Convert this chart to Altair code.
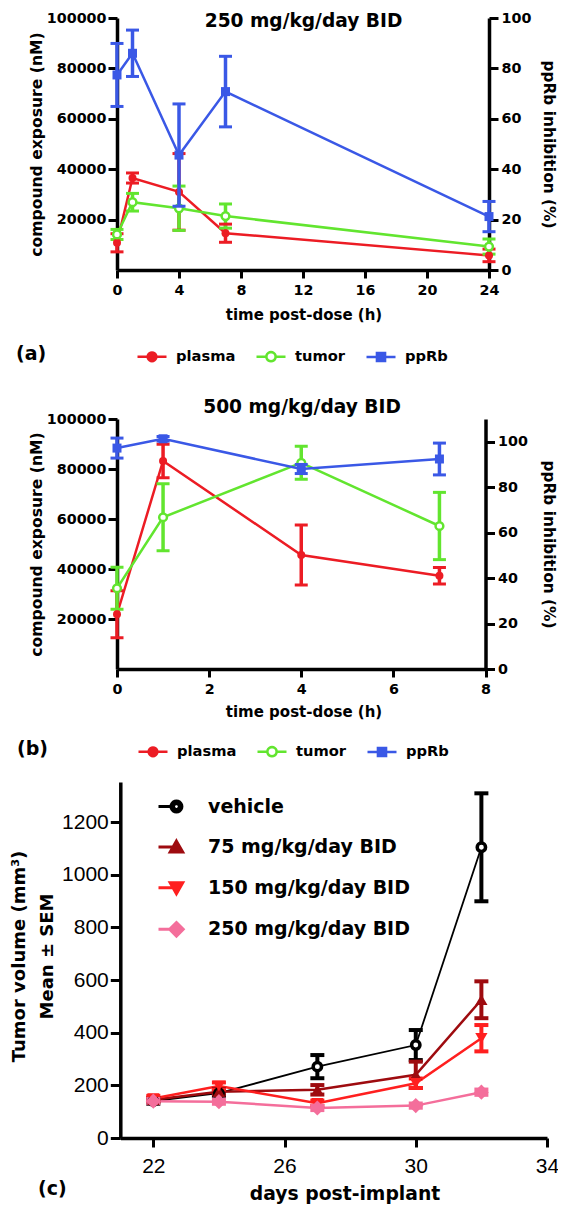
import math
import altair as alt
import pandas as pd

F = "DejaVu Sans"
FC = "Liberation Sans"

# ---------------- data ----------------
a_time = [0, 1, 4, 7, 24]
a_plasma = [10800, 36500, 31000, 14600, 5800]
a_plasma_sem = [3600, 2000, 15200, 3600, 2500]
a_tumor = [14100, 26900, 24500, 21400, 9300]
a_tumor_sem = [2000, 3500, 8800, 4800, 3000]
a_pprb = [77.4, 86.0, 45.6, 70.8, 21.2]
a_pprb_sem = [12.5, 9.2, 20.3, 14.0, 6.0]

b_time = [0, 1, 4, 7]
b_plasma = [21900, 83200, 45600, 37300]
b_plasma_sem = [9400, 6700, 12000, 3300]
b_tumor = [32300, 60700, 82500, 57200]
b_tumor_sem = [8400, 13400, 6600, 13450]
b_pprb = [97.2, 101.3, 88.0, 92.4]
b_pprb_sem = [4.4, 1.0, 2.0, 7.0]

pk_series = ["plasma", "tumor", "ppRb"]
pk_colors = ["#EC1C24", "#62E52F", "#3A58E6"]

c_days = [22, 24, 27, 30, 32]
c_groups = ["vehicle", "75 mg/kg/day BID", "150 mg/kg/day BID", "250 mg/kg/day BID"]
c_colors = ["#000000", "#9E0B0F", "#FF1F1F", "#F46E9B"]
c_vehicle = [140, 170, 271, 353, 1104]
c_vehicle_sem = [10, 10, 44, 57, 205]
c_75 = [145, 176, 183, 240, 525]
c_75_sem = [8, 10, 18, 50, 70]
c_150 = [150, 197, 132, 208, 379]
c_150_sem = [10, 14, 10, 18, 50]
c_250 = [140, 138, 114, 123, 174]
c_250_sem = [8, 8, 8, 8, 10]


def long_df(times, names, means, sems, key):
    rows = []
    for name, m, s in zip(names, means, sems):
        for t, v, e in zip(times, m, s):
            rows.append({key: name, "t": t, "v": v, "lo": v - e, "hi": v + e})
    return pd.DataFrame(rows)


a_left_df = long_df(a_time, pk_series[:2], [a_plasma, a_tumor], [a_plasma_sem, a_tumor_sem], "series")
a_right_df = long_df(a_time, pk_series[2:], [a_pprb], [a_pprb_sem], "series")
b_left_df = long_df(b_time, pk_series[:2], [b_plasma, b_tumor], [b_plasma_sem, b_tumor_sem], "series")
b_right_df = long_df(b_time, pk_series[2:], [b_pprb], [b_pprb_sem], "series")
c_df = long_df(c_days, c_groups, [c_vehicle, c_75, c_150, c_250],
               [c_vehicle_sem, c_75_sem, c_150_sem, c_250_sem], "group")
pk_leg_df = pd.DataFrame({"series": pk_series})
c_leg_df = pd.DataFrame({"group": c_groups})


# ---------------- legend symbol paths ----------------
def poly(pts):
    return "M" + "L".join(f"{x:.3f},{y:.3f}" for x, y in pts) + "Z"


def hatch(pts, step=0.08):
    ys = [p[1] for p in pts]
    out = ""
    y = min(ys) + step / 2
    n = len(pts)
    while y < max(ys):
        xs = []
        for i in range(n):
            (x1, y1), (x2, y2) = pts[i], pts[(i + 1) % n]
            if (y1 <= y < y2) or (y2 <= y < y1):
                xs.append(x1 + (y - y1) * (x2 - x1) / (y2 - y1))
        xs.sort()
        for i in range(0, len(xs) - 1, 2):
            out += f"M{xs[i]:.3f},{y:.3f}L{xs[i+1]:.3f},{y:.3f}"
        y += step
    return out


def ngon(cx, r, n=20):
    return [(cx + r * math.cos(2 * math.pi * k / n), r * math.sin(2 * math.pi * k / n)) for k in range(n)]


circ = ngon(0, 0.3)
sq = [(-0.28, -0.28), (0.28, -0.28), (0.28, 0.28), (-0.28, 0.28)]
pk_paths = [
    "M-1,0L1,0" + poly(circ) + hatch(circ),
    "M-1,0L-0.32,0M0.32,0L1,0" + poly(ngon(0, 0.32)),
    "M-1,0L1,0" + poly(sq) + hatch(sq),
]
tri_up = [(0.38, -0.46), (0.86, 0.38), (-0.10, 0.38)]
tri_dn = [(-0.10, -0.38), (0.86, -0.38), (0.38, 0.46)]
dia = [(0.38, -0.52), (0.9, 0), (0.38, 0.52), (-0.14, 0)]
c_paths = [
    "M-1,0L-0.06,0" + poly(ngon(0.38, 0.42)) + poly(ngon(0.38, 0.22)),
    "M-1,0L0.38,0" + poly(tri_up) + hatch(tri_up),
    "M-1,0L0.38,0" + poly(tri_dn) + hatch(tri_dn),
    "M-1,0L0,0" + poly(dia) + hatch(dia),
]

# ---------------- geometry / styles ----------------
W, H = 433, 1120

ab_axis = dict(domainColor="black", domainWidth=3.5, tickColor="black", tickWidth=3,
               labelColor="black", labelFont=F, labelFontWeight="bold", labelFontSize=14.3,
               titleColor="black", titleFont=F, titleFontWeight="bold", format="d",
               grid=False, labelFlush=False, labelOverlap=False)
c_axis = dict(domainColor="black", domainWidth=3.5, tickColor="black", tickWidth=3,
              labelColor="black", labelFont=FC, labelFontWeight="normal", labelFontSize=21,
              titleColor="black", titleFont=F, titleFontWeight="bold", format="d",
              grid=False, labelFlush=False, labelOverlap=False)


def qscale(domain, rng):
    return alt.Scale(domain=domain, range=rng, nice=False, zero=False)


def pk_legend(title, lx, ly):
    return alt.Legend(orient="none", legendX=lx, legendY=ly, direction="horizontal",
                      title=title, titleOrient="left", titleFont=F, titleFontSize=19,
                      titleFontWeight="bold", titleColor="black", titlePadding=89,
                      labelFont=F, labelFontSize=14.7, labelFontWeight="bold", labelColor="black",
                      labelOffset=8, columnPadding=15, symbolSize=841, symbolStrokeWidth=2.5,
                      labelLimit=0, padding=0)


def pk_panel(left_df, right_df, tmax, tvals, xr, x_off, yl_rng, yr_dom, yr_vals, yr_off, yr_tx,
             title, title_x, title_y, top_off, xt_y, leg):
    yl_mid = (yl_rng[0] + yl_rng[1]) / 2
    x_ax = alt.Axis(orient="bottom", offset=x_off, values=tvals, tickSize=8, labelPadding=5,
                    title="time post-dose (h)", titleFontSize=15, titleX=186.5, titleY=xt_y,
                    titleBaseline="alphabetic", titleAngle=0, **ab_axis)
    yl_ax = alt.Axis(orient="left", values=[20000, 40000, 60000, 80000, 100000], tickSize=9,
                     labelPadding=2, title="compound exposure (nM)", titleFontSize=15.6,
                     titleX=-81, titleY=yl_mid, titleAngle=-90, titleBaseline="middle", **ab_axis)
    x_top = alt.Axis(orient="top", offset=top_off, domain=False, ticks=False, labels=False, grid=False,
                     title=title, titleFont=F, titleFontWeight="bold", titleFontSize=18.6,
                     titleColor="black", titleX=title_x, titleY=title_y,
                     titleBaseline="alphabetic", titleAngle=0)
    yr_ax = alt.Axis(orient="right", offset=yr_off, values=yr_vals, tickSize=9, labelPadding=3,
                     title="ppRb inhibition (%)", titleFontSize=15.4, titleX=yr_tx,
                     titleY=yl_mid, titleAngle=90, titleBaseline="middle", **ab_axis)

    stroke = alt.Stroke("series:N", scale=alt.Scale(domain=pk_series, range=pk_colors), legend=leg)

    xl = alt.X("t:Q", scale=qscale([0, tmax], xr), axis=x_ax)

    def yl(f):
        return alt.Y(f"{f}:Q", scale=qscale([0, 100000], yl_rng), axis=yl_ax)

    bl = alt.Chart(left_df)
    left = alt.layer(
        bl.mark_line(strokeWidth=2.5).encode(x=xl, y=yl("v"), stroke=stroke),
        bl.mark_rule(strokeWidth=3.5).encode(x=xl, y=yl("lo"), y2="hi:Q", stroke=stroke),
        bl.transform_fold(["lo", "hi"], as_=["end", "e"]).mark_point(
            shape="stroke", size=169, strokeWidth=3, opacity=1).encode(x=xl, y=yl("e"), stroke=stroke),
        bl.transform_filter("datum.series == 'plasma'").mark_point(
            shape="circle", filled=True, size=64, opacity=1, color=pk_colors[0]).encode(x=xl, y=yl("v")),
        bl.transform_filter("datum.series == 'tumor'").mark_point(
            shape="circle", filled=False, fill="white", size=60, strokeWidth=2.5, opacity=1,
            color=pk_colors[1]).encode(x=xl, y=yl("v")),
    )

    xr_enc = alt.X("t:Q", scale=qscale([0, tmax], xr), axis=x_top)

    def yr(f):
        return alt.Y(f"{f}:Q", scale=qscale(yr_dom, yl_rng), axis=yr_ax)

    br = alt.Chart(right_df)
    right = alt.layer(
        br.mark_line(strokeWidth=2.5).encode(x=xr_enc, y=yr("v"), stroke=stroke),
        br.mark_rule(strokeWidth=3.5).encode(x=xr_enc, y=yr("lo"), y2="hi:Q", stroke=stroke),
        br.transform_fold(["lo", "hi"], as_=["end", "e"]).mark_point(
            shape="stroke", size=169, strokeWidth=3, opacity=1).encode(x=xr_enc, y=yr("e"), stroke=stroke),
        br.mark_point(shape="square", filled=True, size=81, opacity=1, color=pk_colors[2]).encode(
            x=xr_enc, y=yr("v")),
    )

    legend_layer = alt.Chart(pk_leg_df).mark_point(size=0, strokeWidth=2.5, filled=False, opacity=1).encode(
        stroke=stroke,
        shape=alt.Shape("series:N", scale=alt.Scale(domain=pk_series, range=pk_paths), legend=leg),
    )
    return alt.layer(left, right, legend_layer).resolve_scale(
        x="independent", y="independent").resolve_axis(x="independent", y="independent")


panelA = pk_panel(a_left_df, a_right_df, 24, [0, 4, 8, 12, 16, 20, 24], [0, 372], -868,
                  [252, 0], [0, 100], [0, 20, 40, 60, 80, 100], -61, 59,
                  "250 mg/kg/day BID", 186, 8, 0, 49, pk_legend("(a)", -101, 322.5))
panelB = pk_panel(b_left_df, b_right_df, 8, [0, 2, 4, 6, 8], [0, 368.5], -469,
                  [651, 401], [0, 110], [0, 20, 40, 60, 80, 100], -64.5, 62.5,
                  "500 mg/kg/day BID", 184.5, -7, -401, 47, pk_legend("(b)", -100, 717.5))

# ---------------- panel C ----------------
xc_ax = alt.Axis(orient="bottom", values=[22, 26, 30, 34], tickSize=9, labelPadding=8,
                 title="days post-implant", titleFontSize=18.75, titleX=227.5, titleY=61,
                 titleBaseline="alphabetic", titleAngle=0, **c_axis)
yc_ax = alt.Axis(orient="left", offset=-3.3, values=[0, 200, 400, 600, 800, 1000, 1200], tickSize=10,
                 labelPadding=2, title=["Tumor volume (mm³)", "Mean ± SEM"], titleFontSize=18,
                 titleX=-96, titleY=938, titleAngle=-90, titleBaseline="alphabetic",
                 titleLineHeight=28, **c_axis)
xc = alt.X("t:Q", scale=qscale([21, 34], [3.5, 430]), axis=xc_ax)


def yc(f):
    return alt.Y(f"{f}:Q", scale=qscale([0, 1352], [1120, 764]), axis=yc_ax)


legC = alt.Legend(orient="none", legendX=40, legendY=774, direction="vertical", title=None,
                  labelFont=F, labelFontSize=19, labelFontWeight="bold", labelColor="black",
                  labelOffset=22, rowPadding=14.6, symbolSize=676, symbolStrokeWidth=3,
                  labelLimit=0, padding=0)
c_stroke = alt.Stroke("group:N", scale=alt.Scale(domain=c_groups, range=c_colors), legend=legC)
bc = alt.Chart(c_df)
c_marks = [("vehicle", dict(shape="circle", filled=False, fill="white", strokeWidth=3.5, size=70)),
           ("75 mg/kg/day BID", dict(shape="triangle-up", filled=True, size=150)),
           ("150 mg/kg/day BID", dict(shape="triangle-down", filled=True, size=150)),
           ("250 mg/kg/day BID", dict(shape="diamond", filled=True, size=230))]
point_layers = [
    bc.transform_filter(f"datum.group == '{g}'").mark_point(opacity=1, color=c_colors[i], **kw).encode(
        x=xc, y=yc("v"))
    for i, (g, kw) in enumerate(c_marks)
]
panelC = alt.layer(
    bc.transform_filter("datum.group == 'vehicle'").mark_line(strokeWidth=1.8).encode(
        x=xc, y=yc("v"), stroke=c_stroke),
    bc.transform_filter("datum.group != 'vehicle'").mark_line(strokeWidth=2.5).encode(
        x=xc, y=yc("v"), stroke=c_stroke),
    bc.mark_rule(strokeWidth=4).encode(x=xc, y=yc("lo"), y2="hi:Q", stroke=c_stroke),
    bc.transform_fold(["lo", "hi"], as_=["end", "e"]).mark_point(
        shape="stroke", size=196, strokeWidth=4, opacity=1).encode(x=xc, y=yc("e"), stroke=c_stroke),
    *point_layers,
    alt.Chart(c_leg_df).mark_point(size=0, strokeWidth=3, filled=False, opacity=1).encode(
        stroke=c_stroke,
        shape=alt.Shape("group:N", scale=alt.Scale(domain=c_groups, range=c_paths), legend=legC),
    ),
)

chart = alt.layer(panelA, panelB, panelC).resolve_scale(
    x="independent", y="independent", stroke="independent", shape="independent"
).resolve_axis(x="independent", y="independent").resolve_legend(
    stroke="independent", shape="independent"
).properties(
    width=W, height=H,
    autosize=alt.AutoSizeParams(type="none"),
    padding={"left": 109, "top": 10, "right": 8, "bottom": 66},
    title=alt.TitleParams("(c)", orient="bottom", anchor="start", frame="group", offset=0,
                          dx=-79, dy=-23, font=F, fontSize=19, fontWeight="bold", color="black",
                          align="left"),
).configure_view(stroke=None)

chart.save("out.html", embed_options={"renderer": "svg", "actions": False})
